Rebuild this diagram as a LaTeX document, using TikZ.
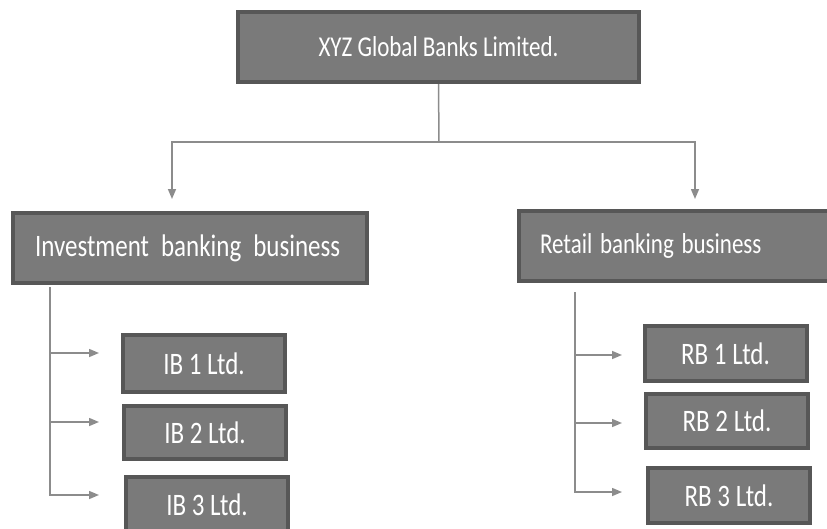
\documentclass[tikz,border=0pt]{standalone}
\usepackage{fontspec}
\setmainfont{Carlito}
\usetikzlibrary{arrows.meta}
\usepackage{xcolor}
\usepackage{graphicx}
\definecolor{boxfill}{HTML}{7A7A7A}
\definecolor{boxline}{HTML}{575757}
\definecolor{linkgray}{HTML}{8C8C8C}
\newcommand{\tall}[1]{\scalebox{1}[1.25]{#1}}

\begin{document}
\begin{tikzpicture}[x=1pt, y=-1pt, >={Triangle[length=10pt,width=8pt]},
 unit/.style={draw=boxline, line width=4pt, fill=boxfill, text=white, inner sep=0pt},
 firm/.style={unit, minimum width=162, minimum height=55, font=\fontsize{25}{27}\selectfont},
 link/.style={linkgray, line width=1.5pt}]
\path[use as bounding box, clip] (0,0) rectangle (827,528);
\fill[white] (0,0) rectangle (827,528);
\node[unit, minimum width=401, minimum height=70, font=\fontsize{23}{25}\selectfont] (xyz) at (438.5,47) {\tall{XYZ Global Banks Limited.}};
\node[unit, minimum width=354, minimum height=70, text width=310, align=left, font=\fontsize{25}{27}\selectfont] (ib) at (190,248) {\tall{\spaceskip=12pt Investment banking business}};
\node[unit, minimum width=313, minimum height=70, text width=271, align=left, font=\fontsize{23}{25}\selectfont] (rb) at (675.5,246) {\tall{Retail banking business}};
\node[firm, minimum height=57] (ib1) at (204,363.5) {\tall{IB 1 Ltd.}};
\node[firm, minimum height=53] (ib2) at (205,432.5) {\tall{IB 2 Ltd.}};
\node[firm] (ib3) at (207,504.5) {\tall{IB 3 Ltd.}};
\node[firm] (rb1) at (725.5,353.5) {\tall{RB 1 Ltd.}};
\node[firm, minimum height=54] (rb2) at (727,421) {\tall{RB 2 Ltd.}};
\node[firm] (rb3) at (729,495.5) {\tall{RB 3 Ltd.}};
\coordinate (split) at (439,142);
\coordinate (ibin) at (172,199);
\coordinate (rbin) at (695,199);
\draw[link] (xyz.south) -- (split);
\draw[link,->] (split) -| (ibin);
\draw[link,->] (split) -| (rbin);
\coordinate (ibrail) at (50,287);
\coordinate (rbrail) at (575,292);
\foreach \i/\y in {1/353,2/422,3/495} {
 \coordinate (ibtip\i) at (99,\y);
 \draw[link,->] (ibrail) |- (ibtip\i);
}
\foreach \i/\y in {1/355,2/423,3/492} {
 \coordinate (rbtip\i) at (622,\y);
 \draw[link,->] (rbrail) |- (rbtip\i);
}
\end{tikzpicture}
\end{document}
